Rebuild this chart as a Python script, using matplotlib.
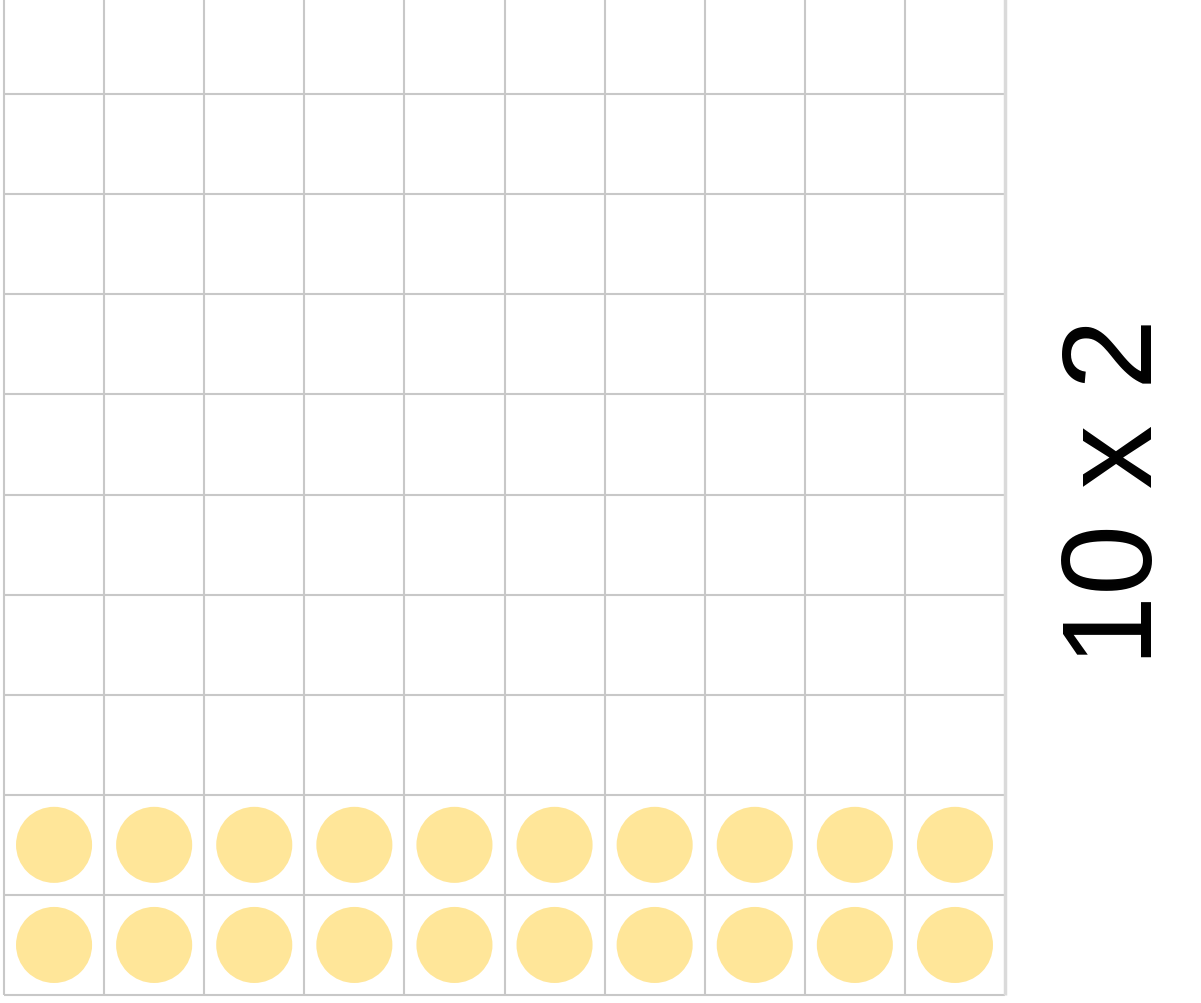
import matplotlib.pyplot as plt
from matplotlib.patches import Circle

# grid is 10 columns x 10 rows, counters fill the bottom 2 rows
n_cols = 10
n_rows = 10
filled_rows = 2
label = "10 x 2"

grid_color = '#c8c8c8'
counter_color = '#ffe699'

fig = plt.figure(figsize=(12.01, 10.04), dpi=100)
ax = fig.add_axes([4 / 1201, 8 / 1004, 1001 / 1201, 1001 / 1004])
ax.set_xlim(0, n_cols)
ax.set_ylim(0, n_rows)
ax.axis('off')

# counters
for r in range(filled_rows):
    for c in range(n_cols):
        ax.add_patch(Circle((c + 0.5, r + 0.5), 0.38, facecolor=counter_color,
                            edgecolor='none', zorder=1))

# grid lines
ax.vlines(range(n_cols), 0, n_rows, colors=grid_color, lw=1.5, zorder=2, clip_on=False)
ax.hlines(range(n_rows + 1), 0, n_cols, colors=grid_color, lw=1.5, zorder=2, clip_on=False)
ax.vlines([n_cols], 0, n_rows, colors='#dadada', lw=2.5, zorder=2, clip_on=False)

fig.text(1119 / 1201, 1 - 492 / 1004, label, rotation=90, fontsize=92,
         family='Liberation Sans', ha='center', va='center', color='black')

fig.savefig('out.png', dpi=100, facecolor='white')
